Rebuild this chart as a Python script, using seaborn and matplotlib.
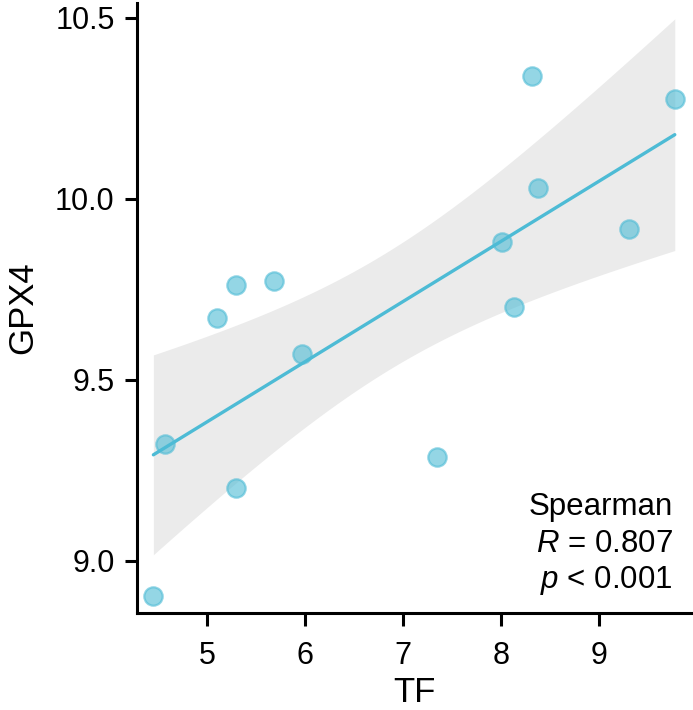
import numpy as np
import pandas as pd
import seaborn as sns
import matplotlib.pyplot as plt

# values
tf = [4.45, 4.57, 5.10, 5.29, 5.68, 5.97, 5.29, 7.34, 8.01, 8.13, 8.31, 8.37, 9.30, 9.77]
gpx4 = [8.904, 9.322, 9.670, 9.762, 9.773, 9.571, 9.202, 9.288, 9.881, 9.702, 10.338, 10.031, 9.916, 10.275]
x_ticks = [5, 6, 7, 8, 9]
y_ticks = [9.0, 9.5, 10.0, 10.5]

df = pd.DataFrame({"TF": tf, "GPX4": gpx4})

sns.set_style("ticks")
plt.rcParams['font.family'] = ['Liberation Sans', 'DejaVu Sans']
plt.rcParams['mathtext.fontset'] = 'custom'
plt.rcParams['mathtext.rm'] = 'Liberation Sans'
plt.rcParams['mathtext.it'] = 'Liberation Sans:italic'
plt.rcParams['text.color'] = 'black'
plt.rcParams['axes.labelcolor'] = 'black'

fig = plt.figure(figsize=(6.93, 7.10), dpi=100)
ax = fig.add_axes([0.1973, 0.137, 0.8013, 0.8588])

color = "#4DBBD5"

# analytic 95% confidence band of the linear fit (ggplot-style, grey)
x = df["TF"].to_numpy()
y = df["GPX4"].to_numpy()
n = len(x)
b1, b0 = np.polyfit(x, y, 1)
s = np.sqrt(np.sum((y - (b0 + b1 * x)) ** 2) / (n - 2))
t_crit = 2.1788  # t(0.975, df=12)
xs = np.linspace(x.min(), x.max(), 200)
se = s * np.sqrt(1 / n + (xs - x.mean()) ** 2 / np.sum((x - x.mean()) ** 2))
yhat = b0 + b1 * xs
ax.fill_between(xs, yhat - t_crit * se, yhat + t_crit * se, color="#ebebeb", lw=0, zorder=0.5)

sns.regplot(data=df, x="TF", y="GPX4", ax=ax, ci=None, color=color,
            scatter_kws=dict(s=175, alpha=0.6, edgecolor=color, linewidths=1.6, zorder=2),
            line_kws=dict(lw=2.4, color=color, zorder=3))

ax.set_xlim(4.28, 9.946)
ax.set_ylim(8.857, 10.541)
ax.set_xticks(x_ticks)
ax.set_yticks(y_ticks)
ax.set_yticklabels([f"{v:.1f}" for v in y_ticks])
ax.tick_params(labelsize=22, width=2.2, length=9, color="black", labelcolor="black")
ax.tick_params(axis="x", pad=11)
ax.tick_params(axis="y", pad=7)
for side in ["left", "bottom"]:
    ax.spines[side].set_linewidth(2.2)
    ax.spines[side].set_color("black")
sns.despine(ax=ax)

ax.set_xlabel("TF", fontsize=25, labelpad=4)
ax.set_ylabel("GPX4", fontsize=25, labelpad=11)

ax.text(0.965, 0.160, "Spearman", transform=ax.transAxes, ha="right", va="baseline", fontsize=22.5)
ax.text(0.965, 0.100, r"$\it{R}$ = 0.807", transform=ax.transAxes, ha="right", va="baseline", fontsize=22.5)
ax.text(0.965, 0.0405, r"$\it{p}$ < 0.001", transform=ax.transAxes, ha="right", va="baseline", fontsize=22.5)

fig.savefig("out.png", dpi=100)
